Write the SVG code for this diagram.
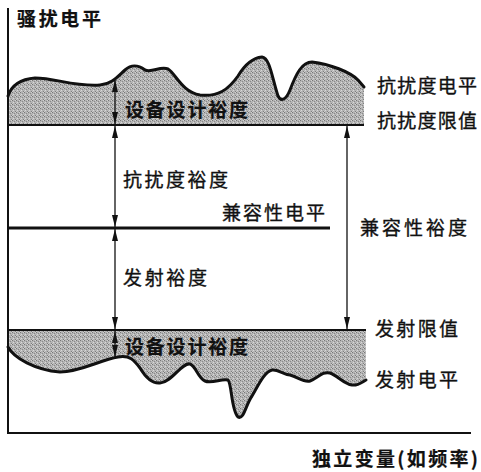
<svg xmlns="http://www.w3.org/2000/svg" width="481" height="472" viewBox="0 0 481 472">
<style>
.t{font-family:"Noto Sans CJK SC","Noto Sans",sans-serif;font-size:19px;fill:#111;stroke:#111;stroke-width:0.35}
.b{font-weight:bold;stroke-width:0.2}
.ax{stroke:#111;stroke-width:2;fill:none}
.wave{stroke:#111;stroke-width:3;fill:none;stroke-linejoin:round;stroke-linecap:round}
.lim{stroke:#111;stroke-width:2}
.arr{stroke:#111;stroke-width:1.3;marker-start:url(#ah);marker-end:url(#ah)}
</style>
<defs>
<pattern id="stip" width="4" height="4" patternUnits="userSpaceOnUse">
<rect width="4" height="4" fill="#b4b4b4"/>
<rect x="0" y="0" width="1" height="1" fill="#777"/>
<rect x="2" y="1" width="1" height="1" fill="#8a8a8a"/>
<rect x="1" y="2" width="1" height="1" fill="#d8d8d8"/>
<rect x="3" y="3" width="1" height="1" fill="#7f7f7f"/>
<rect x="3" y="0" width="1" height="1" fill="#d0d0d0"/>
<rect x="0" y="3" width="1" height="1" fill="#cccccc"/>
</pattern>
<marker id="ah" viewBox="0 0 12 6" refX="12" refY="3" markerWidth="12" markerHeight="6" markerUnits="userSpaceOnUse" orient="auto-start-reverse">
<path d="M0,0 L12,3 L0,6 Z" fill="#111"/>
</marker>
</defs>
<g id="immunity-band">
<path d="M8,96 C12,84 22,79 35,78 C55,78 75,87 100,85 C112,84 118,76 125,70 C132,64 138,65 145,70 C152,73 160,66 168,69 C176,74 182,92 200,95 C218,97 228,90 238,76 C244,66 252,58 262,57 C270,58 272,78 278,96 C281,102 286,100 290,90 C296,74 302,62 312,62 C330,64 350,72 358,80 L364,87 L364,125 L8,125 Z" fill="url(#stip)"/>
<path class="wave" d="M8,96 C12,84 22,79 35,78 C55,78 75,87 100,85 C112,84 118,76 125,70 C132,64 138,65 145,70 C152,73 160,66 168,69 C176,74 182,92 200,95 C218,97 228,90 238,76 C244,66 252,58 262,57 C270,58 272,78 278,96 C281,102 286,100 290,90 C296,74 302,62 312,62 C330,64 350,72 358,80 L364,87"/>
<line class="lim" x1="8" y1="125" x2="364" y2="125"/>
</g>
<g id="emission-band">
<path d="M8,347 C14,358 35,370 60,372 C80,372 100,360 118,357 C130,355 134,360 140,368 C146,378 152,384 160,383 C172,382 182,362 190,364 C196,366 198,378 205,381 C212,384 222,378 228,380 C232,384 231,410 238,417 C244,420 246,404 252,396 C258,386 264,372 272,370 C278,369 282,374 290,375 C298,377 304,383 310,381 C318,378 322,371 330,373 C338,376 344,384 352,385 C358,386 362,382 366,380 L366,330 L8,330 Z" fill="url(#stip)"/>
<path class="wave" d="M8,347 C14,358 35,370 60,372 C80,372 100,360 118,357 C130,355 134,360 140,368 C146,378 152,384 160,383 C172,382 182,362 190,364 C196,366 198,378 205,381 C212,384 222,378 228,380 C232,384 231,410 238,417 C244,420 246,404 252,396 C258,386 264,372 272,370 C278,369 282,374 290,375 C298,377 304,383 310,381 C318,378 322,371 330,373 C338,376 344,384 352,385 C358,386 362,382 366,380"/>
<line class="lim" x1="8" y1="330" x2="366" y2="330"/>
</g>
<g id="compat-level">
<line x1="8" y1="228" x2="330" y2="228" stroke="#111" stroke-width="3"/>
</g>
<g id="axes">
<polyline class="ax" points="8,8 8,433 471,433"/>
</g>
<g id="connectors">
<line class="arr" x1="115" y1="80" x2="115" y2="124"/>
<line class="arr" x1="115" y1="126" x2="115" y2="227"/>
<line class="arr" x1="115" y1="229" x2="115" y2="329"/>
<line class="arr" x1="115" y1="331" x2="115" y2="357"/>
<line class="arr" x1="347" y1="126" x2="347" y2="329"/>
</g>
<g id="labels">
<text class="t b" x="17" y="26" textLength="84" lengthAdjust="spacing">骚扰电平</text>
<text class="t b" x="125" y="117" textLength="123" lengthAdjust="spacing">设备设计裕度</text>
<text class="t" x="377" y="93" textLength="100" lengthAdjust="spacing">抗扰度电平</text>
<text class="t" x="377" y="128" textLength="100" lengthAdjust="spacing">抗扰度限值</text>
<text class="t" x="123" y="187" textLength="105" lengthAdjust="spacing">抗扰度裕度</text>
<text class="t" x="222" y="220" textLength="103" lengthAdjust="spacing">兼容性电平</text>
<text class="t" x="360" y="235" textLength="107" lengthAdjust="spacing">兼容性裕度</text>
<text class="t" x="123" y="285" textLength="84" lengthAdjust="spacing">发射裕度</text>
<text class="t b" x="125" y="354" textLength="123" lengthAdjust="spacing">设备设计裕度</text>
<text class="t" x="375" y="336" textLength="83" lengthAdjust="spacing">发射限值</text>
<text class="t" x="375" y="387" textLength="83" lengthAdjust="spacing">发射电平</text>
<text class="t b" x="312" y="466" textLength="166" lengthAdjust="spacing">独立变量(如频率)</text>
</g>
</svg>
